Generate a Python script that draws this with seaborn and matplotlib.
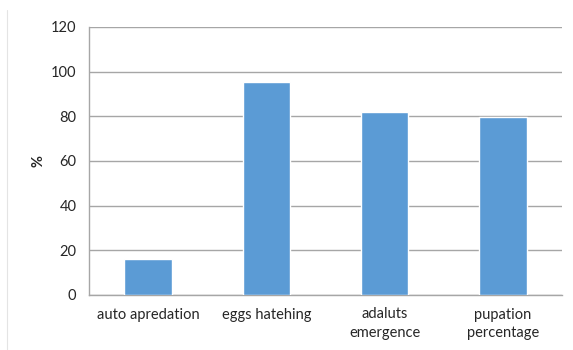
import matplotlib
matplotlib.use("Agg")
import matplotlib.pyplot as plt
import seaborn as sns
import pandas as pd

categories = ["auto apredation", "eggs hatehing", "adaluts\nemergence", "pupation\npercentage"]
values = [16.1, 95.4, 81.8, 79.8]
y_ticks = [0, 20, 40, 60, 80, 100, 120]

df = pd.DataFrame({"category": categories, "value": values})

sns.set_theme(style="white")
plt.rcParams["font.family"] = ["Lato", "DejaVu Sans"]

fig = plt.figure(figsize=(5.73, 3.5), dpi=100)
ax = fig.add_axes([89 / 573, 1 - 295 / 350, (562 - 89) / 573, (295 - 27) / 350])

sns.barplot(data=df, x="category", y="value", color="#5B9BD5", width=0.4,
            saturation=1, ax=ax, zorder=3)

ax.set_ylim(0, 120)
ax.set_yticks(y_ticks)
ax.set_xlim(-0.5, len(categories) - 0.5)
ax.yaxis.grid(True, color="#A6A6A6", linewidth=1.0, zorder=0)
ax.set_axisbelow(True)

for side in ["top", "right"]:
    ax.spines[side].set_visible(False)
for side in ["left", "bottom"]:
    ax.spines[side].set_color("#A6A6A6")
    ax.spines[side].set_linewidth(1.0)

ax.tick_params(axis="both", length=0, labelsize=10.5, colors="#262626")
ax.tick_params(axis="y", pad=9)
ax.tick_params(axis="x", pad=9)
for lbl in ax.get_xticklabels():
    lbl.set_linespacing(1.4)
ax.set_xlabel("")
ax.set_ylabel("%", fontsize=10.5, fontweight="bold", color="#262626", labelpad=4)

# faint chart-area border on the left edge
fig.add_artist(plt.Line2D([7 / 573, 7 / 573], [0, 1 - 10 / 350],
                          color="#E4E4E4", linewidth=0.8))

fig.savefig("out.png", dpi=100, facecolor="white")
